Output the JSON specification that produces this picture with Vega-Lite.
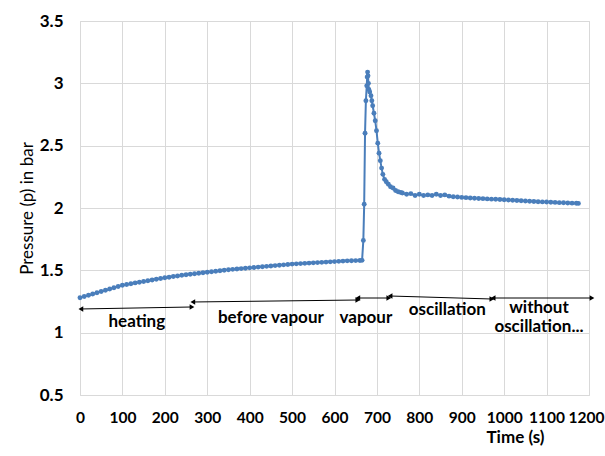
{
  "$schema": "https://vega.github.io/schema/vega-lite/v6.json",
  "width": 509,
  "height": 374,
  "autosize": {"type": "none"},
  "padding": {"left": 80, "top": 21, "right": 16, "bottom": 61},
  "background": "white",
  "config": {
    "view": {"stroke": "#d9d9d9"},
    "font": "Lato",
    "axis": {"gridColor": "#d9d9d9", "gridWidth": 1, "domain": false, "ticks": false,
             "labelFont": "Lato", "labelFontSize": 17, "labelFontWeight": "bold", "labelColor": "#000000",
             "labelOverlap": false, "labelFlush": false,
             "titleFont": "Lato", "titleFontSize": 17, "titleFontWeight": "bold", "titleColor": "#000000"}
  },
  "datasets": {
    "pressure": [
      {"t": 0, "p": 1.28}, {"t": 10, "p": 1.29}, {"t": 20, "p": 1.3}, {"t": 30, "p": 1.31}, {"t": 40, "p": 1.32},
      {"t": 50, "p": 1.33}, {"t": 60, "p": 1.34}, {"t": 70, "p": 1.35}, {"t": 80, "p": 1.36}, {"t": 90, "p": 1.37},
      {"t": 100, "p": 1.38}, {"t": 110, "p": 1.386}, {"t": 120, "p": 1.392}, {"t": 130, "p": 1.399}, {"t": 140, "p": 1.405},
      {"t": 150, "p": 1.41}, {"t": 160, "p": 1.416}, {"t": 170, "p": 1.422}, {"t": 180, "p": 1.428}, {"t": 190, "p": 1.434},
      {"t": 200, "p": 1.44}, {"t": 210, "p": 1.445}, {"t": 220, "p": 1.45}, {"t": 230, "p": 1.455}, {"t": 240, "p": 1.46},
      {"t": 250, "p": 1.465}, {"t": 260, "p": 1.469}, {"t": 270, "p": 1.473}, {"t": 280, "p": 1.477}, {"t": 290, "p": 1.481},
      {"t": 300, "p": 1.485}, {"t": 310, "p": 1.489}, {"t": 320, "p": 1.493}, {"t": 330, "p": 1.497}, {"t": 340, "p": 1.501},
      {"t": 350, "p": 1.505}, {"t": 360, "p": 1.508}, {"t": 370, "p": 1.511}, {"t": 380, "p": 1.514}, {"t": 390, "p": 1.517},
      {"t": 400, "p": 1.52}, {"t": 410, "p": 1.523}, {"t": 420, "p": 1.526}, {"t": 430, "p": 1.529}, {"t": 440, "p": 1.532},
      {"t": 450, "p": 1.535}, {"t": 460, "p": 1.538}, {"t": 470, "p": 1.541}, {"t": 480, "p": 1.544}, {"t": 490, "p": 1.547},
      {"t": 500, "p": 1.55}, {"t": 510, "p": 1.552}, {"t": 520, "p": 1.554}, {"t": 530, "p": 1.556}, {"t": 540, "p": 1.558},
      {"t": 550, "p": 1.56}, {"t": 560, "p": 1.562}, {"t": 570, "p": 1.564}, {"t": 580, "p": 1.566}, {"t": 590, "p": 1.568},
      {"t": 600, "p": 1.57}, {"t": 610, "p": 1.572}, {"t": 620, "p": 1.574}, {"t": 630, "p": 1.576}, {"t": 640, "p": 1.577},
      {"t": 650, "p": 1.578}, {"t": 660, "p": 1.579}, {"t": 665, "p": 1.58},
      {"t": 668, "p": 1.74}, {"t": 670, "p": 2.03}, {"t": 672, "p": 2.6}, {"t": 674, "p": 2.86}, {"t": 676, "p": 2.98},
      {"t": 677, "p": 3.05}, {"t": 678, "p": 3.09}, {"t": 679, "p": 3.06}, {"t": 680, "p": 3.0}, {"t": 681, "p": 2.95},
      {"t": 683, "p": 2.93}, {"t": 686, "p": 2.9}, {"t": 688, "p": 2.86}, {"t": 690, "p": 2.82}, {"t": 693, "p": 2.76},
      {"t": 696, "p": 2.7}, {"t": 699, "p": 2.62}, {"t": 702, "p": 2.52}, {"t": 705, "p": 2.44}, {"t": 708, "p": 2.38},
      {"t": 711, "p": 2.32}, {"t": 714, "p": 2.27}, {"t": 718, "p": 2.23}, {"t": 722, "p": 2.21}, {"t": 727, "p": 2.19},
      {"t": 732, "p": 2.17}, {"t": 738, "p": 2.16}, {"t": 744, "p": 2.14}, {"t": 750, "p": 2.13}, {"t": 756, "p": 2.125},
      {"t": 760, "p": 2.12}, {"t": 770, "p": 2.11}, {"t": 780, "p": 2.115}, {"t": 790, "p": 2.1}, {"t": 800, "p": 2.11},
      {"t": 810, "p": 2.1}, {"t": 820, "p": 2.105}, {"t": 830, "p": 2.1}, {"t": 840, "p": 2.11}, {"t": 850, "p": 2.1},
      {"t": 860, "p": 2.105}, {"t": 870, "p": 2.095}, {"t": 880, "p": 2.09}, {"t": 890, "p": 2.088}, {"t": 900, "p": 2.085},
      {"t": 910, "p": 2.083}, {"t": 920, "p": 2.08}, {"t": 930, "p": 2.078}, {"t": 940, "p": 2.076}, {"t": 950, "p": 2.075},
      {"t": 960, "p": 2.073}, {"t": 970, "p": 2.071}, {"t": 980, "p": 2.07}, {"t": 990, "p": 2.068}, {"t": 1000, "p": 2.066},
      {"t": 1010, "p": 2.064}, {"t": 1020, "p": 2.062}, {"t": 1030, "p": 2.06}, {"t": 1040, "p": 2.058}, {"t": 1050, "p": 2.056},
      {"t": 1060, "p": 2.054}, {"t": 1070, "p": 2.052}, {"t": 1080, "p": 2.05}, {"t": 1090, "p": 2.049}, {"t": 1100, "p": 2.048},
      {"t": 1110, "p": 2.046}, {"t": 1120, "p": 2.045}, {"t": 1130, "p": 2.043}, {"t": 1140, "p": 2.042}, {"t": 1150, "p": 2.04},
      {"t": 1160, "p": 2.039}, {"t": 1170, "p": 2.038}, {"t": 1175, "p": 2.037}
    ],
    "phases": [
      {"phase": "heating", "t1": 2, "t2": 264, "p1": 1.19, "p2": 1.206},
      {"phase": "before vapour", "t1": 266, "t2": 655, "p1": 1.246, "p2": 1.262},
      {"phase": "vapour", "t1": 655, "t2": 728, "p1": 1.278, "p2": 1.278},
      {"phase": "oscillation", "t1": 731, "t2": 971, "p1": 1.294, "p2": 1.27},
      {"phase": "without oscillation", "t1": 974, "t2": 1207, "p1": 1.278, "p2": 1.278}
    ],
    "labels": [
      {"text": ["heating"], "t": 134, "p": 1.085},
      {"text": ["before vapour"], "t": 450, "p": 1.118},
      {"text": ["vapour"], "t": 674, "p": 1.118},
      {"text": ["oscillation"], "t": 866, "p": 1.18},
      {"text": ["without", "oscillation..."], "t": 1082, "p": 1.2}
    ]
  },
  "layer": [
    {
      "data": {"name": "pressure"},
      "mark": {"type": "line", "color": "#4a7ebb", "strokeWidth": 2, "clip": false},
      "encoding": {
        "x": {"field": "t", "type": "quantitative", "scale": {"domain": [0, 1200], "nice": false},
              "axis": {"values": [0, 100, 200, 300, 400, 500, 600, 700, 800, 900, 1000, 1100, 1200], "format": "d",
                       "labelFontSize": 15.5,
                       "labelAlign": {"condition": {"test": "datum.value >= 1200", "value": "right"}, "value": "center"},
                       "labelOffset": {"condition": {"test": "datum.value >= 1200", "value": 15}, "value": 0},
                       "title": "Time (s)", "labelPadding": 15, "titlePadding": 4, "titleX": 435}},
        "y": {"field": "p", "type": "quantitative", "scale": {"domain": [0.5, 3.5], "nice": false, "zero": false},
              "axis": {"values": [0.5, 1, 1.5, 2, 2.5, 3, 3.5], "format": "~g", "title": "Pressure (p) in bar",
                       "titleFontWeight": "normal", "labelPadding": 17, "titlePadding": 3}}
      }
    },
    {
      "data": {"name": "pressure"},
      "mark": {"type": "point", "filled": true, "color": "#4a7ebb", "size": 24, "opacity": 1},
      "encoding": {
        "x": {"field": "t", "type": "quantitative"},
        "y": {"field": "p", "type": "quantitative"}
      }
    },
    {
      "data": {"name": "phases"},
      "mark": {"type": "rule", "color": "#000000", "strokeWidth": 1},
      "encoding": {
        "x": {"field": "t1", "type": "quantitative"},
        "x2": {"field": "t2"},
        "y": {"field": "p1", "type": "quantitative"},
        "y2": {"field": "p2"}
      }
    },
    {
      "data": {"name": "phases"},
      "mark": {"type": "point", "shape": "triangle-left", "filled": true, "color": "#000000", "size": 30, "opacity": 1},
      "encoding": {
        "x": {"field": "t1", "type": "quantitative"},
        "y": {"field": "p1", "type": "quantitative"}
      }
    },
    {
      "data": {"name": "phases"},
      "mark": {"type": "point", "shape": "triangle-right", "filled": true, "color": "#000000", "size": 30, "opacity": 1},
      "encoding": {
        "x": {"field": "t2", "type": "quantitative"},
        "y": {"field": "p2", "type": "quantitative"}
      }
    },
    {
      "data": {"name": "labels"},
      "mark": {"type": "text", "font": "Lato", "fontSize": 17, "fontWeight": "bold", "color": "#000000",
               "align": "center", "baseline": "middle", "lineHeight": 19},
      "encoding": {
        "x": {"field": "t", "type": "quantitative"},
        "y": {"field": "p", "type": "quantitative"},
        "text": {"field": "text"}
      }
    }
  ]
}
